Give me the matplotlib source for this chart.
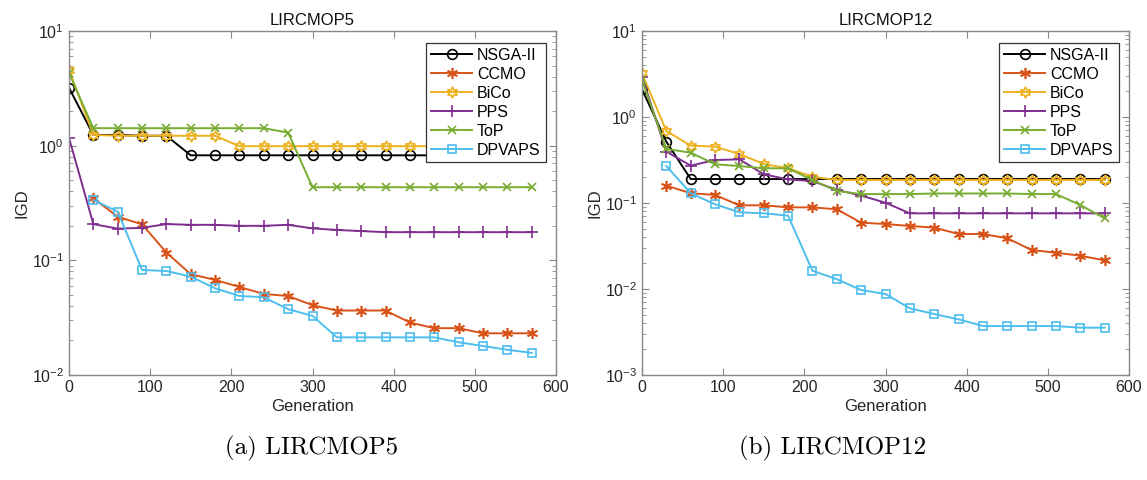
import numpy as np
import matplotlib.pyplot as plt
from matplotlib.ticker import LogLocator, NullFormatter

plt.rcParams['font.family'] = ['Liberation Sans', 'DejaVu Sans']
plt.rcParams['mathtext.fontset'] = 'custom'
plt.rcParams['mathtext.rm'] = 'Liberation Sans'
plt.rcParams['mathtext.it'] = 'Liberation Sans:italic'

# generations sampled every 30; CCMO and DPVAPS start logging at gen 30
gen = np.arange(0, 600, 30)
gen_late = gen[1:]

# LIRCMOP5
p5_nsga = [3.2, 1.24, 1.24, 1.22, 1.22, 0.824, 0.824, 0.824, 0.824, 0.824,
           0.824, 0.824, 0.824, 0.824, 0.824, 0.824, 0.824, 0.824, 0.824, 0.824]
p5_ccmo = [0.347, 0.240, 0.206, 0.117, 0.0757, 0.0675, 0.0586, 0.0509, 0.0489, 0.0406,
           0.0365, 0.0365, 0.0365, 0.0287, 0.0256, 0.0256, 0.0231, 0.0231, 0.0231]
p5_bico = [4.57, 1.24, 1.22, 1.22, 1.22, 1.22, 1.22, 0.99, 0.99, 0.99,
           0.99, 0.99, 0.99, 0.99, 0.99, 0.99, 0.99, 0.99, 0.99, 0.99]
p5_pps = [1.17, 0.207, 0.189, 0.192, 0.207, 0.204, 0.204, 0.200, 0.200, 0.204,
          0.190, 0.184, 0.180, 0.176, 0.176, 0.176, 0.176, 0.176, 0.176, 0.176]
p5_top = [4.3, 1.42, 1.42, 1.42, 1.42, 1.42, 1.42, 1.42, 1.42, 1.30,
          0.434, 0.434, 0.434, 0.434, 0.434, 0.434, 0.434, 0.434, 0.434, 0.434]
p5_dpvaps = [0.336, 0.266, 0.0824, 0.0807, 0.0721, 0.057, 0.0489, 0.0476, 0.0375, 0.0328,
             0.0213, 0.0213, 0.0213, 0.0213, 0.0213, 0.0193, 0.0179, 0.0166, 0.0156]

# LIRCMOP12
p12_nsga = [2.1, 0.516, 0.19, 0.19, 0.19, 0.19, 0.19, 0.19, 0.19, 0.19,
            0.19, 0.19, 0.19, 0.19, 0.19, 0.19, 0.19, 0.19, 0.19, 0.19]
p12_ccmo = [0.159, 0.130, 0.124, 0.094, 0.094, 0.089, 0.089, 0.0845, 0.059, 0.057,
            0.054, 0.0517, 0.0436, 0.0436, 0.0389, 0.0284, 0.0264, 0.0244, 0.0215]
p12_bico = [3.22, 0.687, 0.465, 0.452, 0.371, 0.284, 0.253, 0.202, 0.185, 0.185,
            0.185, 0.185, 0.185, 0.185, 0.185, 0.185, 0.185, 0.185, 0.185, 0.185]
p12_pps = [2.95, 0.395, 0.272, 0.316, 0.322, 0.216, 0.188, 0.18, 0.142, 0.122,
           0.1007, 0.0758, 0.0758, 0.0758, 0.0758, 0.0758, 0.0758, 0.0758, 0.0758, 0.0758]
p12_top = [2.69, 0.425, 0.385, 0.282, 0.269, 0.253, 0.253, 0.185, 0.138, 0.127,
           0.127, 0.127, 0.129, 0.129, 0.129, 0.129, 0.127, 0.127, 0.0948, 0.0664]
p12_dpvaps = [0.269, 0.130, 0.0966, 0.078, 0.0758, 0.0713, 0.0163, 0.013, 0.00973, 0.00875,
              0.00596, 0.00512, 0.00444, 0.00371, 0.00371, 0.00371, 0.00371, 0.00355, 0.00355]

names = ['NSGA-II', 'CCMO', 'BiCo', 'PPS', 'ToP', 'DPVAPS']
colors = ['black', '#D95319', '#EDB120', '#7E2F8E', '#77AC30', '#4DBEEE']
# asterisk and hexagram built as star polygons
markers = ['o', (6, 2, 0), (6, 1, 0), '+', 'x', 's']
msizes = [7, 8, 8, 9, 6, 6]
filled = [False, True, False, True, True, False]

fig = plt.figure(figsize=(11.47, 4.8), dpi=100)
ax1 = fig.add_axes([69 / 1147, 105 / 480, 487 / 1147, 344 / 480])
ax2 = fig.add_axes([642 / 1147, 105 / 480, 487 / 1147, 344 / 480])

panels = [
    (ax1, 'LIRCMOP5', [p5_nsga, p5_ccmo, p5_bico, p5_pps, p5_top, p5_dpvaps], (1e-2, 1e1)),
    (ax2, 'LIRCMOP12', [p12_nsga, p12_ccmo, p12_bico, p12_pps, p12_top, p12_dpvaps], (1e-3, 1e1)),
]

for ax, title, series, ylim in panels:
    for i, vals in enumerate(series):
        x = gen if len(vals) == len(gen) else gen_late
        ax.plot(x, vals, color=colors[i], marker=markers[i], ms=msizes[i],
                mfc=colors[i] if filled[i] else 'none', mec=colors[i],
                mew=1.2, lw=1.4, label=names[i])
    ax.set_yscale('log')
    ax.set_xlim(0, 600)
    ax.set_ylim(*ylim)
    ax.set_xticks(range(0, 601, 100))
    ax.yaxis.set_major_locator(LogLocator(base=10, numticks=10))
    ax.yaxis.set_minor_locator(LogLocator(base=10, subs=np.arange(2, 10), numticks=10))
    ax.yaxis.set_minor_formatter(NullFormatter())
    ax.tick_params(which='both', direction='in', top=True, right=True,
                   color='#888888', labelsize=11.5, labelcolor='#262626')
    ax.tick_params(which='major', length=5)
    ax.tick_params(which='minor', length=3)
    for s in ax.spines.values():
        s.set_color('#888888')
        s.set_linewidth(1.0)
    ax.set_title(title, fontsize=12, pad=4, color='#111111')
    ax.set_xlabel('Generation', fontsize=12, labelpad=3, color='#262626')
    ax.set_ylabel('IGD', fontsize=12, labelpad=2, color='#262626')
    leg = ax.legend(loc='upper right', bbox_to_anchor=(0.985, 0.975), fontsize=11.5,
                    frameon=True, fancybox=False, framealpha=1, edgecolor='#333333',
                    handlelength=2.6, handletextpad=0.3, labelspacing=0.25,
                    borderpad=0.3, borderaxespad=0.2)
    leg.get_frame().set_linewidth(0.9)

fig.text(312 / 1147, 1 - 448 / 480, '(a) LIRCMOP5', family='cmr10',
         fontsize=18, ha='center', va='center')
fig.text(833 / 1147, 1 - 448 / 480, '(b) LIRCMOP12', family='cmr10',
         fontsize=18, ha='center', va='center')

fig.savefig('out.png', dpi=100)
